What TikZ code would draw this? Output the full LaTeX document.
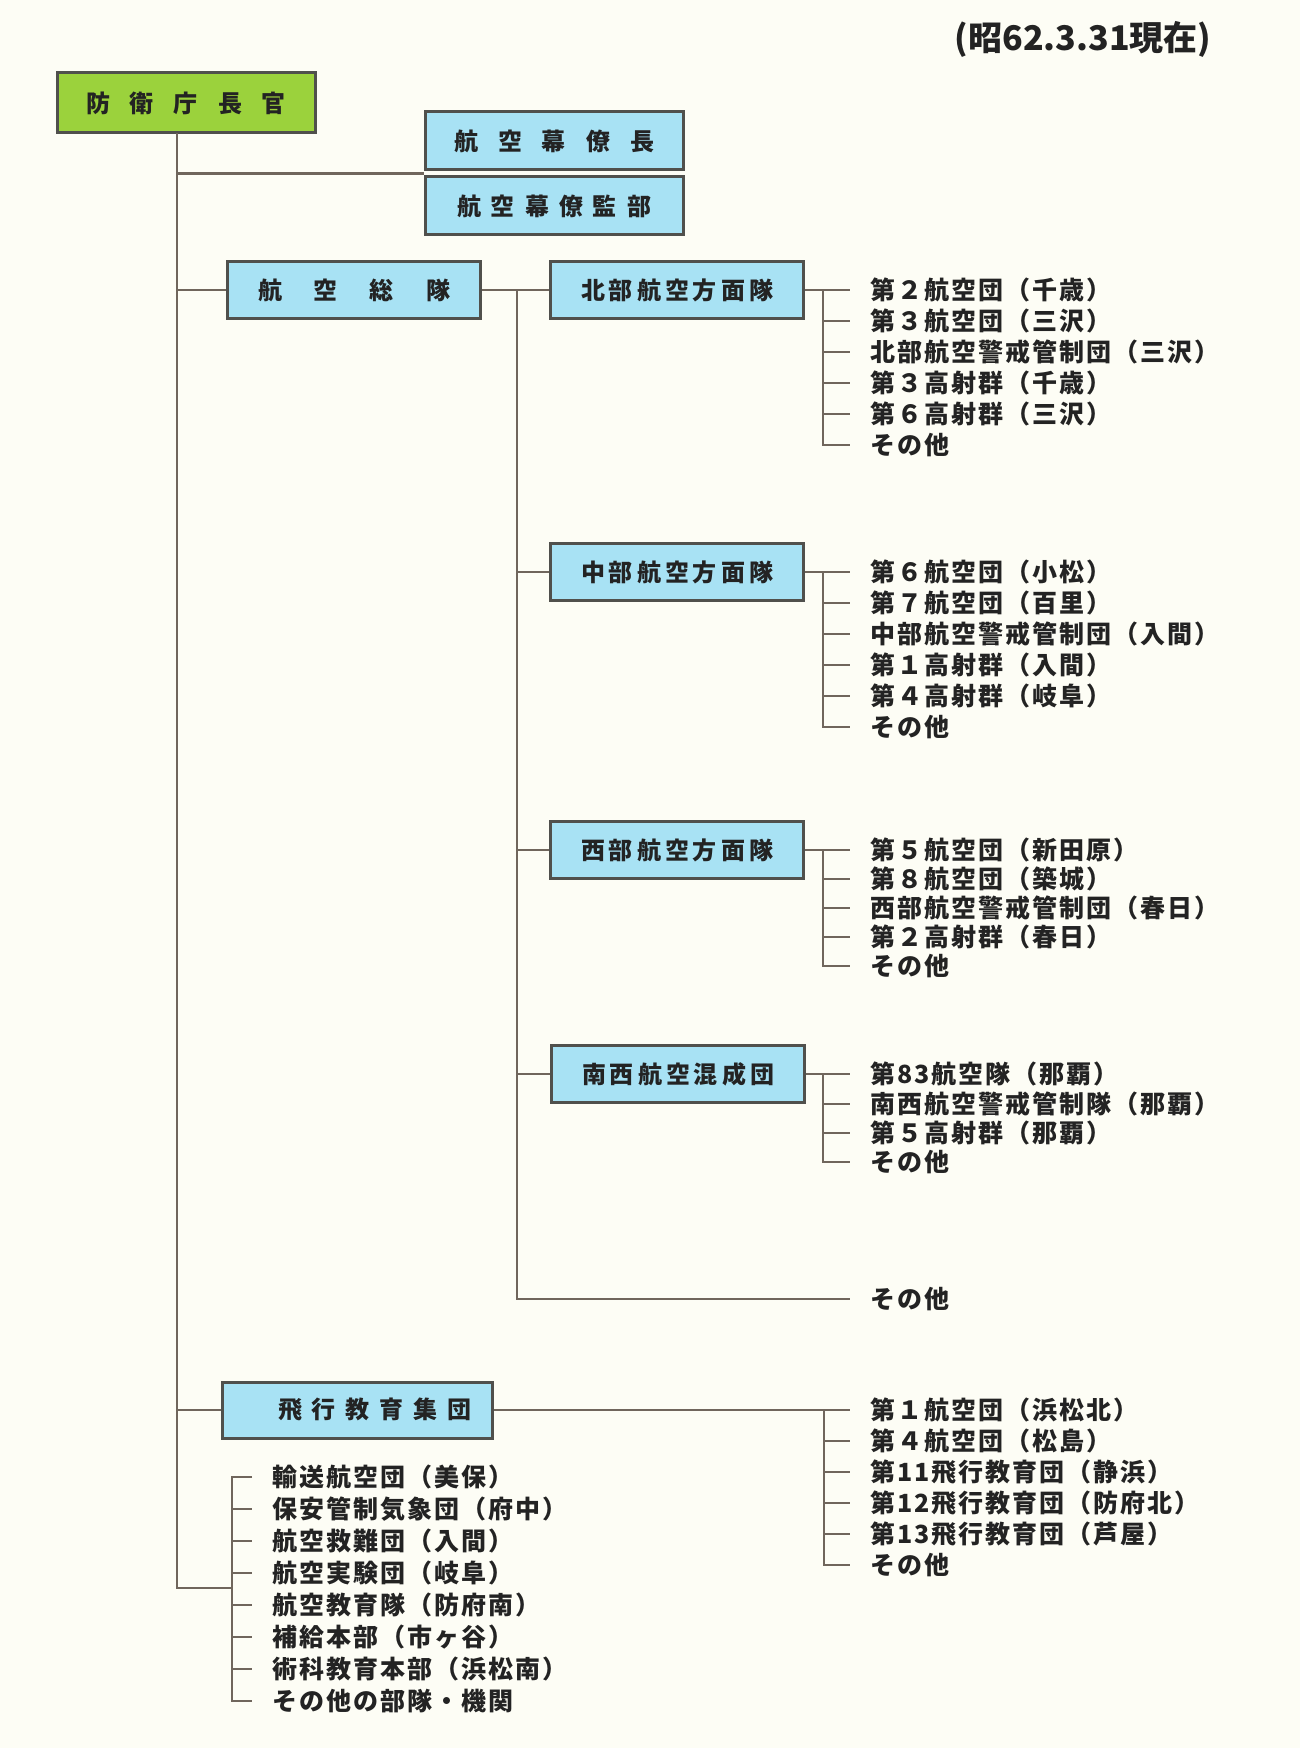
\documentclass[tikz,border=0pt]{standalone}
\usepackage{fontspec}
\setmainfont{Noto Sans CJK JP}
\usetikzlibrary{calc}

\definecolor{paper}{RGB}{253,253,245}
\definecolor{chiefgreen}{RGB}{155,210,60}
\definecolor{unitblue}{RGB}{168,226,244}
\definecolor{edge}{RGB}{80,80,76}
\definecolor{wirecol}{RGB}{112,102,92}
\definecolor{ink}{RGB}{35,35,35}

\begin{document}
\begin{tikzpicture}[x=0.5pt, y=-0.5pt]

    % Define styles
    \tikzstyle{unit} = [draw=edge, fill=unitblue, rectangle, line width=1.5pt, minimum width=126.5pt, minimum height=28.5pt, inner sep=0pt, text=ink, font=\fontsize{12}{12}\selectfont\bfseries]
    \tikzstyle{item} = [anchor=west, inner xsep=10pt, inner ysep=0pt, text=ink, font=\fontsize{12.5}{12.5}\selectfont\bfseries\addfontfeature{LetterSpace=8}]
    \tikzstyle{wire} = [draw=wirecol, line width=1.4pt]

    % PAPER
    \fill[paper] (0,0) rectangle (1300,1748);
    \useasboundingbox (0,0) rectangle (1300,1748);

    \node (date) at (1083,39) [text=ink, font=\fontsize{17}{17}\selectfont\bfseries] {(昭62.3.31現在)};

    % TOP
    \node (chief) at (186,103) [unit, fill=chiefgreen, minimum width=129pt, minimum height=30pt] {防\hspace{10pt}衛\hspace{10pt}庁\hspace{10pt}長\hspace{10pt}官};
    \node (cos) at (554,141) [unit, minimum width=129pt, minimum height=29pt] {航\hspace{10pt}空\hspace{10pt}幕\hspace{10pt}僚\hspace{10pt}長};
    \node (aso) at (554,206) [unit, minimum width=129pt, minimum height=29pt] {航\hspace{5pt}空\hspace{5pt}幕\hspace{5pt}僚\hspace{5pt}監\hspace{5pt}部};

    % AIR DEFENSE COMMAND
    \node (adc) at (354,290) [unit] {航\hspace{16pt}空\hspace{16pt}総\hspace{16pt}隊};
    \node (nadf) at (677,290) [unit] {北\hspace{2pt}部\hspace{2pt}航\hspace{2pt}空\hspace{2pt}方\hspace{2pt}面\hspace{2pt}隊};
    \node (cadf) at (677,572) [unit] {中\hspace{2pt}部\hspace{2pt}航\hspace{2pt}空\hspace{2pt}方\hspace{2pt}面\hspace{2pt}隊};
    \node (wadf) at (677,850) [unit] {西\hspace{2pt}部\hspace{2pt}航\hspace{2pt}空\hspace{2pt}方\hspace{2pt}面\hspace{2pt}隊};
    \node (swacw) at (678,1074) [unit] {南\hspace{2pt}西\hspace{2pt}航\hspace{2pt}空\hspace{2pt}混\hspace{2pt}成\hspace{2pt}団};

    % AIR TRAINING COMMAND
    \node (atc) at (357,1410) [unit, minimum width=135pt, minimum height=28pt] {\hspace{18pt}飛\hspace{5pt}行\hspace{5pt}教\hspace{5pt}育\hspace{5pt}集\hspace{5pt}団};

    % NORTH
    \node (n1) at (850,290) [item] {第２航空団（千歳）};
    \node (n2) at (850,321) [item] {第３航空団（三沢）};
    \node (n3) at (850,352) [item] {北部航空警戒管制団（三沢）};
    \node (n4) at (850,383) [item] {第３高射群（千歳）};
    \node (n5) at (850,414) [item] {第６高射群（三沢）};
    \node (n6) at (850,445) [item] {その他};

    % CENTRAL
    \node (c1) at (850,572) [item] {第６航空団（小松）};
    \node (c2) at (850,603) [item] {第７航空団（百里）};
    \node (c3) at (850,634) [item] {中部航空警戒管制団（入間）};
    \node (c4) at (850,665) [item] {第１高射群（入間）};
    \node (c5) at (850,696) [item] {第４高射群（岐阜）};
    \node (c6) at (850,727) [item] {その他};

    % WEST
    \node (w1) at (850,850) [item] {第５航空団（新田原）};
    \node (w2) at (850,879) [item] {第８航空団（築城）};
    \node (w3) at (850,908) [item] {西部航空警戒管制団（春日）};
    \node (w4) at (850,937) [item] {第２高射群（春日）};
    \node (w5) at (850,966) [item] {その他};

    % SOUTHWEST
    \node (s1) at (850,1074) [item] {第83航空隊（那覇）};
    \node (s2) at (850,1104) [item] {南西航空警戒管制隊（那覇）};
    \node (s3) at (850,1133) [item] {第５高射群（那覇）};
    \node (s4) at (850,1162) [item] {その他};

    \node (others) at (850,1299) [item] {その他};

    % FLYING TRAINING
    \node (f1) at (850,1410) [item] {第１航空団（浜松北）};
    \node (f2) at (850,1441) [item] {第４航空団（松島）};
    \node (f3) at (850,1472) [item] {第11飛行教育団（静浜）};
    \node (f4) at (850,1503) [item] {第12飛行教育団（防府北）};
    \node (f5) at (850,1534) [item] {第13飛行教育団（芦屋）};
    \node (f6) at (850,1565) [item] {その他};

    % DIRECT UNITS
    \node (l1) at (252,1477) [item] {輸送航空団（美保）};
    \node (l2) at (252,1509) [item] {保安管制気象団（府中）};
    \node (l3) at (252,1541) [item] {航空救難団（入間）};
    \node (l4) at (252,1573) [item] {航空実験団（岐阜）};
    \node (l5) at (252,1605) [item] {航空教育隊（防府南）};
    \node (l6) at (252,1637) [item] {補給本部（市ヶ谷）};
    \node (l7) at (252,1669) [item] {術科教育本部（浜松南）};
    \node (l8) at (252,1701) [item] {その他の部隊・機関};

    % CONNECTIONS
    \coordinate (trunk) at (177,133);
    \coordinate (staffmid) at ($(cos.south west)!0.5!(aso.north west)$);
    \coordinate (lb) at (232,1588);
    \draw[wire] (trunk) |- (lb);
    \draw[wire] (trunk |- staffmid) -- (staffmid);
    \draw[wire] (trunk |- adc.west) -- (adc.west);
    \draw[wire] (trunk |- atc.west) -- (atc.west);

    \coordinate (trunk2) at (517,290);
    \draw[wire] (adc.east) -- (nadf.west);
    \draw[wire] (trunk2) |- (others.west);
    \draw[wire] (trunk2 |- cadf.west) -- (cadf.west);
    \draw[wire] (trunk2 |- wadf.west) -- (wadf.west);
    \draw[wire] (trunk2 |- swacw.west) -- (swacw.west);

    % Brackets
    \coordinate (nb) at (823,290);
    \draw[wire] (nadf.east) -- (n1.west);
    \draw[wire] (nb) |- (n6.west);
    \draw[wire] (nb |- n2.west) -- (n2.west);
    \draw[wire] (nb |- n3.west) -- (n3.west);
    \draw[wire] (nb |- n4.west) -- (n4.west);
    \draw[wire] (nb |- n5.west) -- (n5.west);

    \coordinate (cb) at (823,572);
    \draw[wire] (cadf.east) -- (c1.west);
    \draw[wire] (cb) |- (c6.west);
    \draw[wire] (cb |- c2.west) -- (c2.west);
    \draw[wire] (cb |- c3.west) -- (c3.west);
    \draw[wire] (cb |- c4.west) -- (c4.west);
    \draw[wire] (cb |- c5.west) -- (c5.west);

    \coordinate (wb) at (823,850);
    \draw[wire] (wadf.east) -- (w1.west);
    \draw[wire] (wb) |- (w5.west);
    \draw[wire] (wb |- w2.west) -- (w2.west);
    \draw[wire] (wb |- w3.west) -- (w3.west);
    \draw[wire] (wb |- w4.west) -- (w4.west);

    \coordinate (sb) at (823,1074);
    \draw[wire] (swacw.east) -- (s1.west);
    \draw[wire] (sb) |- (s4.west);
    \draw[wire] (sb |- s2.west) -- (s2.west);
    \draw[wire] (sb |- s3.west) -- (s3.west);

    \coordinate (fb) at (824,1410);
    \draw[wire] (atc.east) -- (f1.west);
    \draw[wire] (fb) |- (f6.west);
    \draw[wire] (fb |- f2.west) -- (f2.west);
    \draw[wire] (fb |- f3.west) -- (f3.west);
    \draw[wire] (fb |- f4.west) -- (f4.west);
    \draw[wire] (fb |- f5.west) -- (f5.west);

    \draw[wire] (l1.west) -| (lb |- l8.west) -- (l8.west);
    \draw[wire] (lb |- l2.west) -- (l2.west);
    \draw[wire] (lb |- l3.west) -- (l3.west);
    \draw[wire] (lb |- l4.west) -- (l4.west);
    \draw[wire] (lb |- l5.west) -- (l5.west);
    \draw[wire] (lb |- l6.west) -- (l6.west);
    \draw[wire] (lb |- l7.west) -- (l7.west);

\end{tikzpicture}
\end{document}
